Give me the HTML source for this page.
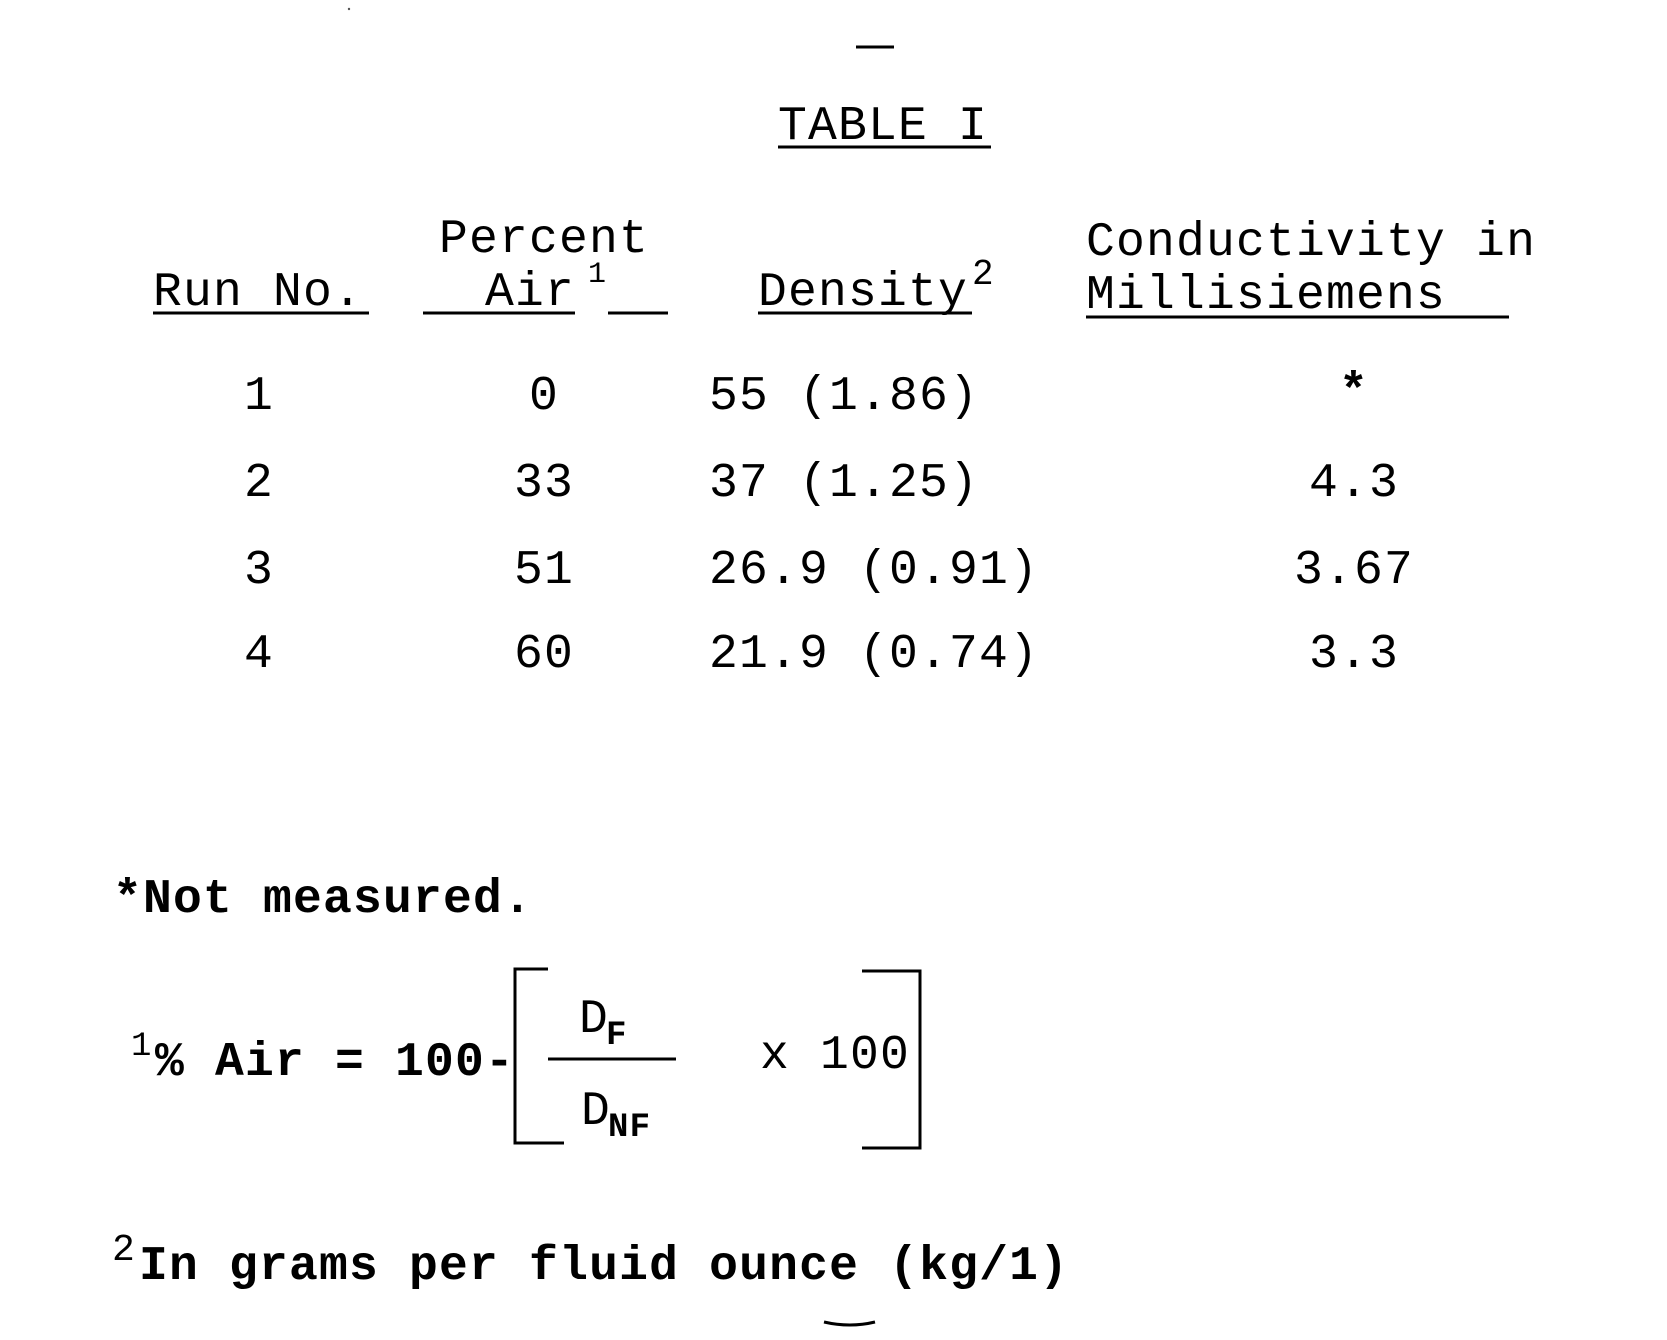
<!DOCTYPE html>
<html><head><meta charset="utf-8"><style>html,body{margin:0;padding:0;background:#fff}svg{display:block}</style></head>
<body>
<svg width="1667" height="1340" viewBox="0 0 1667 1340" xmlns="http://www.w3.org/2000/svg">
<g font-family="Liberation Mono, monospace" font-size="48" fill="#000" letter-spacing="1.2">
<line x1="856" y1="47" x2="894" y2="47" stroke="#000" stroke-width="3"/>
<circle cx="349" cy="9" r="1.2" fill="#555"/>
<text x="778" y="139">TABLE I</text>
<line x1="778" y1="147" x2="991" y2="147" stroke="#000" stroke-width="3"/>

<text x="153" y="305">Run No.</text>
<line x1="153" y1="313" x2="369" y2="313" stroke="#000" stroke-width="3"/>
<text x="439" y="252">Percent</text>
<text x="485" y="305">Air</text>
<text x="588" y="282" font-size="30">1</text>
<line x1="423" y1="313" x2="575" y2="313" stroke="#000" stroke-width="3"/>
<line x1="608" y1="313" x2="668" y2="313" stroke="#000" stroke-width="3"/>
<text x="758" y="305">Density</text>
<text x="972" y="284" font-size="36">2</text>
<line x1="758" y1="313" x2="972" y2="313" stroke="#000" stroke-width="3"/>
<text x="1086" y="255">Conductivity in</text>
<text x="1086" y="308">Millisiemens</text>
<line x1="1086" y1="317" x2="1509" y2="317" stroke="#000" stroke-width="3"/>

<g text-anchor="middle">
<text x="259" y="409">1</text><text x="259" y="496">2</text><text x="259" y="583">3</text><text x="259" y="667">4</text>
<text x="544" y="409">0</text><text x="544" y="496">33</text><text x="544" y="583">51</text><text x="544" y="667">60</text>
<text x="1354" y="405" font-weight="bold">*</text><text x="1354" y="496">4.3</text><text x="1354" y="583">3.67</text><text x="1354" y="667">3.3</text>
</g>
<text x="709" y="409">55 (1.86)</text>
<text x="709" y="496">37 (1.25)</text>
<text x="709" y="583">26.9 (0.91)</text>
<text x="709" y="667">21.9 (0.74)</text>

<text x="113" y="912" font-weight="bold">*Not measured.</text>

<text x="131" y="1055" font-size="34">1</text>
<text x="155" y="1075" font-weight="bold">% Air = 100-</text>
<polyline points="548,969 515,969 515,1143 564,1143" fill="none" stroke="#000" stroke-width="3"/>
<line x1="548" y1="1059" x2="676" y2="1059" stroke="#000" stroke-width="3"/>
<text x="579" y="1032">D</text><text x="606" y="1044" font-size="34" font-weight="bold">F</text>
<text x="581" y="1124">D</text><text x="608" y="1136" font-size="34" font-weight="bold">NF</text>
<text x="760" y="1068">x 100</text>
<polyline points="862,971 920,971 920,1148 862,1148" fill="none" stroke="#000" stroke-width="3"/>

<text x="112" y="1260" font-size="38">2</text>
<text x="139" y="1279" font-weight="bold">In grams per fluid ounce (kg/1)</text>
<path d="M824,1322 Q850,1328 875,1322" fill="none" stroke="#000" stroke-width="3"/>
</g>
</svg>
</body></html>
